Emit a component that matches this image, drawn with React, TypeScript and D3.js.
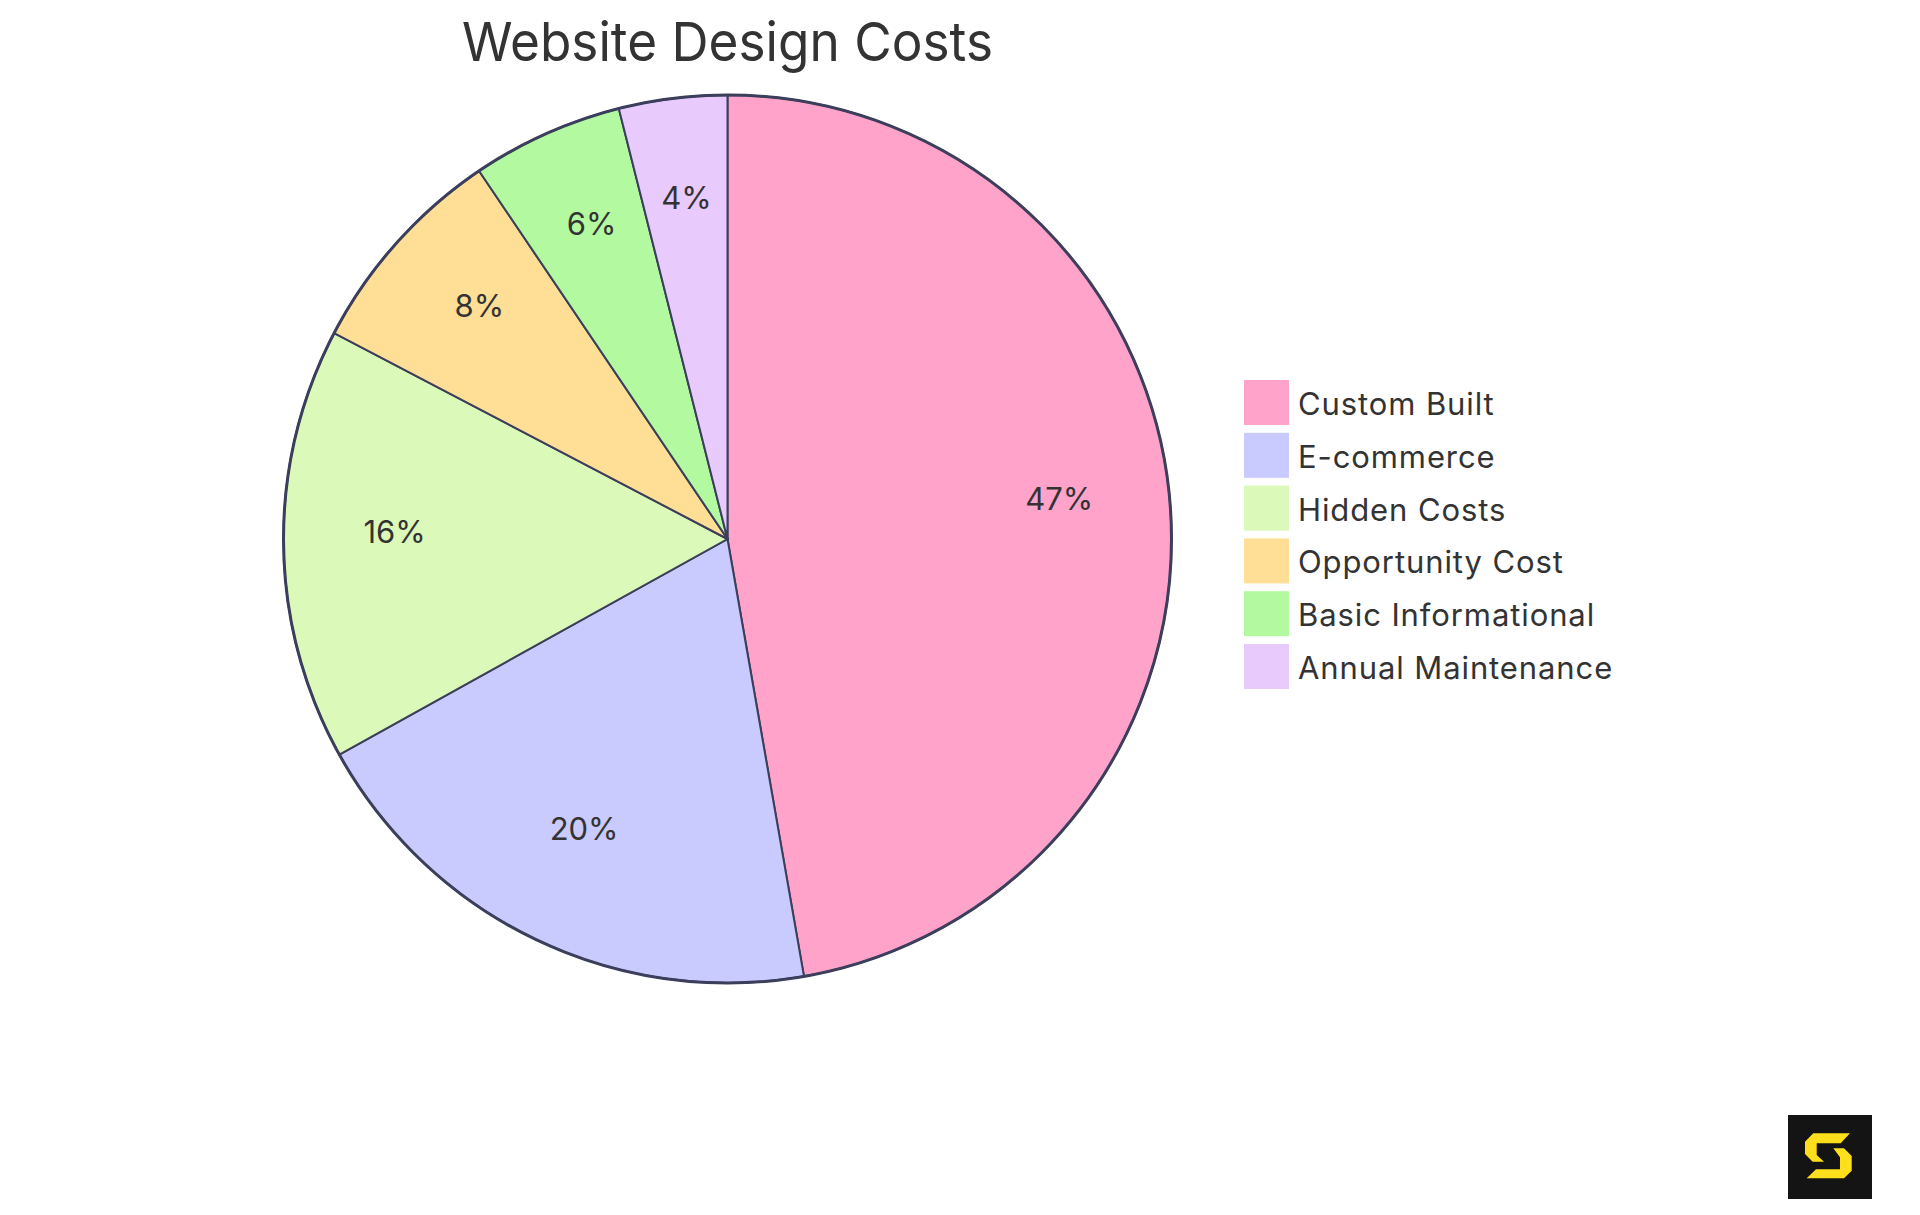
import * as d3 from 'd3'

const title = 'Website Design Costs'
const categories = ['Custom Built', 'E-commerce', 'Hidden Costs', 'Opportunity Cost', 'Basic Informational', 'Annual Maintenance']
const values = [12000, 5000, 4000, 2000, 1400, 1000]
const colors = ['#ffa3cb', '#c9cafd', '#dbf9b9', '#ffde95', '#b3f9a0', '#e8cafd']

const W = 1920
const H = 1215
const cx = 727.5
const cy = 539
const R = 444

const App = () => {
    const pie = d3.pie<number>().sort(null).startAngle(0).endAngle(2 * Math.PI)
    const arcs = pie(values)
    const arc = d3.arc<d3.PieArcDatum<number>>().innerRadius(0).outerRadius(R)
    const labelArc = d3.arc<d3.PieArcDatum<number>>().innerRadius(R * 0.75).outerRadius(R * 0.75)
    const total = d3.sum(values)

    const legendY = d3.scaleBand().domain(categories).range([380, 380 + 52.8 * categories.length]).paddingInner(0)

    return (
        <svg width={W} height={H} style={{ position: 'absolute', left: 0, top: 0, background: '#fff' }}>
            <text x={cx} y={61} textAnchor="middle" fontFamily="Inter" fontSize={54} fill="#333" textLength={531} lengthAdjust="spacingAndGlyphs">
                {title}
            </text>
            <g transform={`translate(${cx},${cy})`}>
                {arcs.map((d, i) => (
                    <path key={i} d={arc(d) ?? ''} fill={colors[i]} stroke="#3b3f5c" strokeWidth={2} />
                ))}
                <circle r={R} fill="none" stroke="#3b3f5c" strokeWidth={3} />
                {arcs.map((d, i) => {
                    const [x, y] = labelArc.centroid(d)
                    return (
                        <text key={i} x={x} y={y} textAnchor="middle" fontFamily="Inter" fontSize={31} fill="#333">
                            {`${Math.round((d.data / total) * 100)}%`}
                        </text>
                    )
                })}
            </g>
            <g>
                {categories.map((c, i) => (
                    <g key={c} transform={`translate(1244,${legendY(c)})`}>
                        <rect width={45} height={45} fill={colors[i]} />
                        <text x={54} y={35} fontFamily="Inter" fontSize={31} letterSpacing={0.9} fill="#333">
                            {c}
                        </text>
                    </g>
                ))}
            </g>
            <g transform="translate(1788,1115)">
                <rect width={84} height={84} fill="#141414" />
                <path d="M62,18.3 L25.3,18.3 L17,26.7 L17,39 L24.7,46.7 L36,46.7 L28.7,40 L28.7,28.3 L52.7,28.3 Z" fill="#ffdf1b" />
                <path d="M45.3,33.3 L56,33.3 L63.7,41 L63.7,55.7 L56,63.3 L18.7,63.3 L28,54.3 L52,54.3 L52,42.3 Z" fill="#ffdf1b" />
            </g>
        </svg>
    )
}

export default App
